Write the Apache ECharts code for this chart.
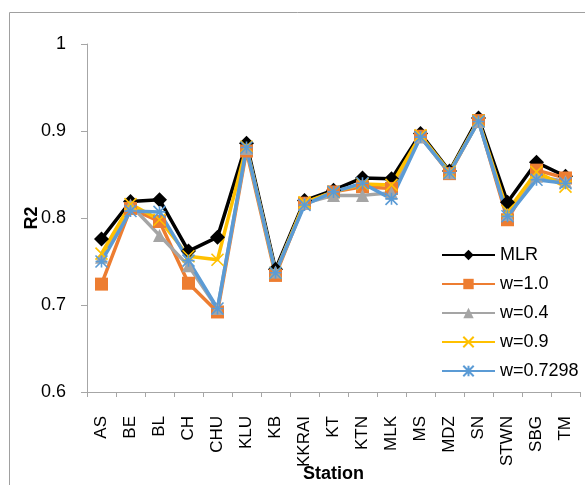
<!DOCTYPE html>
<html><head><meta charset="utf-8">
<script src="https://cdn.jsdelivr.net/npm/echarts@6/dist/echarts.min.js"></script>
<style>html,body{margin:0;padding:0;background:#fff}#c{width:585px;height:485px}</style>
</head><body><div id="c"></div>
<script>
var stations = ['AS','BE','BL','CH','CHU','KLU','KB','KKRAI','KT','KTN','MLK','MS','MDZ','SN','STWN','SBG','TM'];
var mlr   = [0.776,0.819,0.821,0.762,0.778,0.886,0.741,0.820,0.832,0.846,0.845,0.897,0.854,0.915,0.818,0.864,0.848];
var w10   = [0.724,0.811,0.796,0.725,0.692,0.877,0.734,0.817,0.830,0.836,0.834,0.894,0.851,0.912,0.798,0.855,0.846];
var w04   = [0.755,0.815,0.780,0.745,0.696,0.880,0.738,0.817,0.826,0.826,0.829,0.893,0.852,0.911,0.804,0.848,0.842];
var w09   = [0.759,0.816,0.798,0.756,0.752,0.882,0.737,0.818,0.830,0.839,0.838,0.895,0.853,0.912,0.808,0.853,0.836];
var w7298 = [0.750,0.808,0.807,0.751,0.696,0.881,0.737,0.815,0.830,0.840,0.822,0.893,0.852,0.911,0.802,0.844,0.840];
var yTicks = {min:0.6, max:1, interval:0.1};

var FONT = 'Liberation Sans';
var xSym = 'path://M0,0L10,10M10,0L0,10';
var starSym = 'path://M0,0L10,10M10,0L0,10M5,0L5,10M0,5L10,5';

function mk(name, data, color, symbol, size, stroke) {
  return {
    name: name, type: 'line', data: data, symbol: symbol, symbolSize: size,
    showAllSymbol: true,
    lineStyle: {color: color, width: 3.5},
    itemStyle: stroke ? {color: 'rgba(0,0,0,0)', borderColor: color, borderWidth: 1.6} : {color: color, borderWidth: 0},
    emphasis: {disabled: true}, animation: false
  };
}

var chart = echarts.init(document.getElementById('c'), null, {renderer: 'canvas'});
chart.setOption({
  animation: false,
  textStyle: {fontFamily: FONT},
  graphic: [{type: 'rect', shape: {x: 9.5, y: 12.5, width: 600, height: 500}, style: {fill: 'none', stroke: '#a0a0a0', lineWidth: 1}, z: -1}],
  grid: {left: 87, top: 44, right: 5, bottom: 93, containLabel: false, outerBoundsMode: 'none'},
  legend: {
    orient: 'vertical', left: 436, top: 241, itemWidth: 53, itemHeight: 13, itemGap: 11,
    textStyle: {fontSize: 18, color: '#000', fontFamily: FONT, padding: [0,0,0,0]},
    data: ['MLR','w=1.0','w=0.4','w=0.9','w=0.7298']
  },
  xAxis: {
    type: 'category', data: stations, boundaryGap: true,
    name: 'Station', nameLocation: 'middle', nameGap: 73, nameMoveOverlap: false,
    nameTextStyle: {fontSize: 18, fontWeight: 'bold', color: '#000', fontFamily: FONT},
    axisLine: {lineStyle: {color: '#a6a6a6', width: 1}},
    axisTick: {show: true, length: 5, alignWithLabel: false, lineStyle: {color: '#a6a6a6'}},
    axisLabel: {rotate: 90, margin: 24, fontSize: 17, color: '#000', fontFamily: FONT, interval: 0},
    splitLine: {show: false}
  },
  yAxis: {
    type: 'value', min: yTicks.min, max: yTicks.max, interval: yTicks.interval,
    name: 'R2', nameLocation: 'middle', nameGap: 46, nameRotate: 90, nameMoveOverlap: false,
    nameTextStyle: {fontSize: 18, fontWeight: 'bold', color: '#000', fontFamily: FONT},
    axisLine: {show: true, lineStyle: {color: '#a6a6a6', width: 1}},
    axisTick: {show: true, length: 6, inside: false, lineStyle: {color: '#a6a6a6'}},
    axisLabel: {margin: 21, fontSize: 18, color: '#000', fontFamily: FONT,
      formatter: function(v){ return Math.abs(v-1)<1e-9 ? '1' : v.toFixed(1); }},
    splitLine: {show: false}
  },
  series: [
    mk('MLR', mlr, '#000000', 'diamond', 15, false),
    mk('w=1.0', w10, '#ed7d31', 'rect', 13, false),
    mk('w=0.4', w04, '#a5a5a5', 'triangle', 13, false),
    mk('w=0.9', w09, '#ffc000', xSym, 12, true),
    mk('w=0.7298', w7298, '#5b9bd5', starSym, 12, true)
  ]
});
</script></body></html>
